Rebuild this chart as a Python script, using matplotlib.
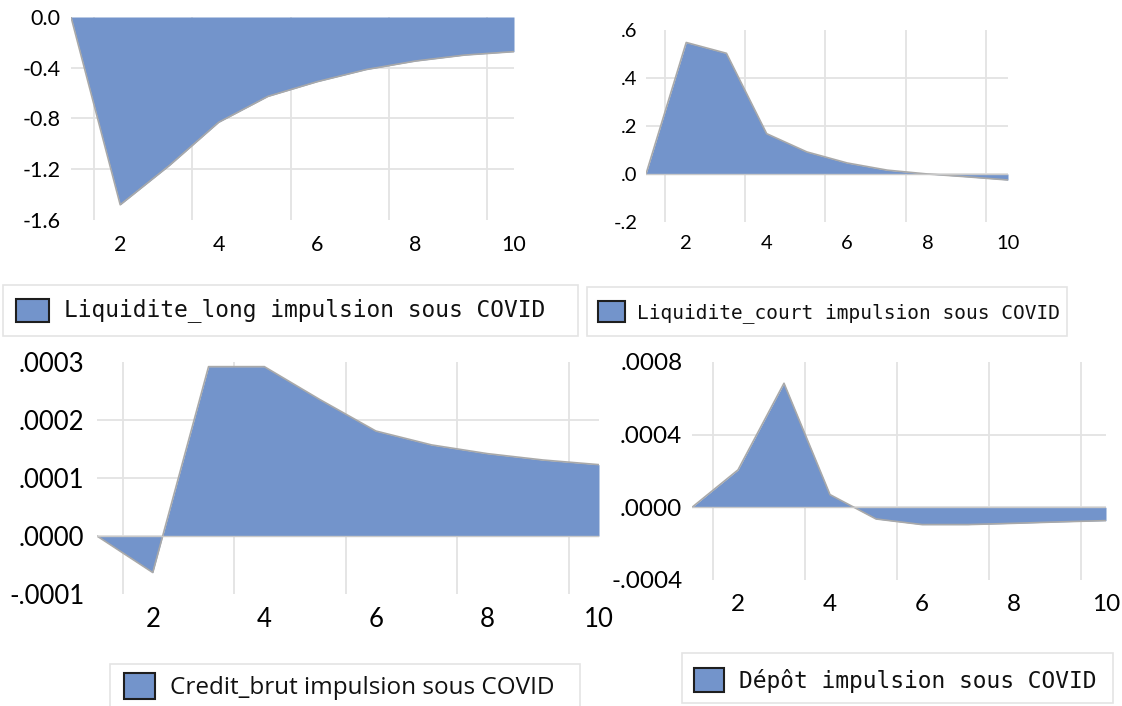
import numpy as np
import matplotlib
matplotlib.use("Agg")
import matplotlib.pyplot as plt
from matplotlib.patches import Rectangle

plt.rcParams["font.family"] = ["Lato", "DejaVu Sans"]

W, H = 1122, 706

# impulse responses, periods 1..10
periods = np.arange(1, 11)
liquidite_long = [0.0, -1.48, -1.17, -0.83, -0.626, -0.51, -0.414, -0.347, -0.30, -0.273]
liquidite_court = [0.0, 0.548, 0.503, 0.168, 0.092, 0.046, 0.016, 0.0, -0.012, -0.025]
credit_brut = [0.0, -0.000063, 0.000292, 0.000292, 0.000235, 0.000181,
               0.000157, 0.000142, 0.000131, 0.000123]
depot = [0.0, 0.000206, 0.000683, 0.000070, -0.000064, -0.000095,
         -0.000095, -0.000088, -0.000080, -0.000073]

xticks = [2, 4, 6, 8, 10]
xlabels = ["2", "4", "6", "8", "10"]
grid_x = [1.46, 3.46, 5.46, 7.46, 9.46]

ticks_long = [0.0, -0.4, -0.8, -1.2, -1.6]
labels_long = ["0.0", "-0.4", "-0.8", "-1.2", "-1.6"]
ticks_court = [0.6, 0.4, 0.2, 0.0, -0.2]
labels_court = [".6", ".4", ".2", ".0", "-.2"]
ticks_credit = [0.0003, 0.0002, 0.0001, 0.0, -0.0001]
labels_credit = [".0003", ".0002", ".0001", ".0000", "-.0001"]
ticks_depot = [0.0008, 0.0004, 0.0, -0.0004]
labels_depot = [".0008", ".0004", ".0000", "-.0004"]

FILL = "#7394cb"
EDGE = "#a9a9a9"
GRID = "#e3e3e3"


def px_axes(fig, x0, y0, x1, y1):
    return fig.add_axes([x0 / W, 1 - y1 / H, (x1 - x0) / W, (y1 - y0) / H])


def area_panel(ax, values, yticks, ylabels, fs, ypad, xpad, baseline=True):
    lo, hi = min(yticks), max(yticks)
    ax.set_xlim(1, 10)
    ax.set_ylim(lo, hi)
    for gx in grid_x:
        ax.axvline(gx, color=GRID, lw=1.3, zorder=0)
    for gy in yticks:
        if lo < gy < hi:
            ax.axhline(gy, color=GRID, lw=1.3, zorder=0)
    ax.fill_between(periods, 0, values, color=FILL, lw=0, zorder=2)
    ax.plot(periods, values, color=EDGE, lw=1.2, zorder=3, solid_capstyle="butt")
    if baseline:
        ax.plot([1, 10], [0, 0], color="#c9c9c9", lw=1.0, zorder=3)
    ax.set_xticks(xticks)
    ax.set_xticklabels(xlabels)
    ax.set_yticks(yticks)
    ax.set_yticklabels(ylabels)
    ax.tick_params(axis="y", length=0, pad=ypad, labelsize=fs)
    ax.tick_params(axis="x", length=0, pad=xpad, labelsize=fs)
    for s in ax.spines.values():
        s.set_visible(False)
    ax.patch.set_alpha(0)


def legend_box(fig, box, patch, text, tx, ty, fs, family):
    x0, y0, x1, y1 = box
    fig.add_artist(Rectangle((x0 / W, 1 - y1 / H), (x1 - x0) / W, (y1 - y0) / H,
                             transform=fig.transFigure, fc="white",
                             ec="#e4e4e4", lw=1.2))
    p0, q0, p1, q1 = patch
    fig.add_artist(Rectangle((p0 / W, 1 - q1 / H), (p1 - p0) / W, (q1 - q0) / H,
                             transform=fig.transFigure, fc=FILL,
                             ec="#1e1e1e", lw=1.5))
    fig.text(tx / W, 1 - ty / H, text, fontsize=fs, family=family,
             ha="left", va="baseline", color="#111111")


fig = plt.figure(figsize=(W / 100, H / 100), dpi=100)

ax1 = px_axes(fig, 71, 17, 514, 220)
area_panel(ax1, liquidite_long, ticks_long, labels_long, 15.5, 7.5, 10.8, baseline=False)

ax2 = px_axes(fig, 646, 30, 1008, 222)
area_panel(ax2, liquidite_court, ticks_court, labels_court, 14.5, 6.2, 9.2)

ax3 = px_axes(fig, 97, 362, 599, 594)
area_panel(ax3, credit_brut, ticks_credit, labels_credit, 18.5, 9.2, 9.6)

ax4 = px_axes(fig, 692, 362, 1106, 580)
area_panel(ax4, depot, ticks_depot, labels_depot, 17.5, 7.0, 10.4)

mono = ["DejaVu Sans Mono"]
legend_box(fig, (3, 285, 578, 336), (16, 299, 49, 322),
           "Liquidite_long impulsion sous COVID", 64, 316, 16.5, mono)
legend_box(fig, (587, 287, 1067, 336), (598, 301, 625, 322),
           "Liquidite_court impulsion sous COVID", 637, 318, 14, mono)
legend_box(fig, (110, 664, 580, 710), (124, 673, 155, 699),
           "Credit_brut impulsion sous COVID", 170, 694, 17.5, ["Open Sans", "DejaVu Sans"])
legend_box(fig, (682, 653, 1113, 703), (694, 668, 724, 692),
           "Dépôt impulsion sous COVID", 739, 688, 16.5, mono)

fig.savefig("out.png", dpi=100)
